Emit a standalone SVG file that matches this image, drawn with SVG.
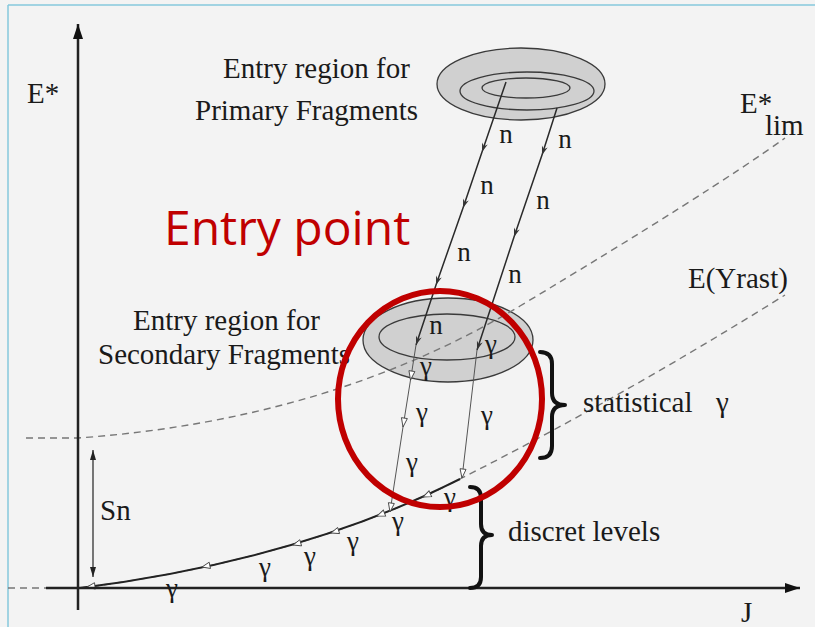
<svg xmlns="http://www.w3.org/2000/svg" xmlns:xlink="http://www.w3.org/1999/xlink" width="815" height="627" viewBox="0 0 815 627">
<style>
.t{font-family:"Liberation Serif","Times New Roman",serif;fill:#1a1a1a;font-size:29px}
.g{font-family:"Liberation Serif","Times New Roman",serif;fill:#1a1a1a;font-size:27px;text-anchor:middle}
.dash{fill:none;stroke:#777;stroke-width:1.4;stroke-dasharray:7 5}
.nl{fill:none;stroke:#2a2a2a;stroke-width:1.5}
.gl{fill:none;stroke:#555;stroke-width:1}
.ax{fill:none;stroke:#222;stroke-width:2.5}
.br{fill:none;stroke:#111;stroke-width:4;stroke-linejoin:round;stroke-linecap:round}
.oa{fill:#fff;stroke:#444;stroke-width:0.9}
.reg{fill:#d0d0d0;stroke:#3a3a3a;stroke-width:1.3}
.ring{fill:none;stroke:#3a3a3a;stroke-width:1.3}
</style>
<defs>
<marker id="mn" markerUnits="userSpaceOnUse" markerWidth="12" markerHeight="10" viewBox="-10 -5 12 10" refX="0" refY="0" orient="auto">
<path d="M0,0 L-9,-3 L-6,0 L-9,3 Z" fill="#333"/>
</marker>
<marker id="mg" markerUnits="userSpaceOnUse" markerWidth="12" markerHeight="10" viewBox="-10 -5 12 10" refX="0" refY="0" orient="auto">
<path d="M0,0 L-9,-3 L-9,3 Z" fill="#fff" stroke="#444" stroke-width="0.9"/>
</marker>
<marker id="ma" markerUnits="userSpaceOnUse" markerWidth="16" markerHeight="12" viewBox="-15 -6 16 12" refX="0" refY="0" orient="auto">
<path d="M0,0 L-15,-5 L-15,5 Z" fill="#111"/>
</marker>
<marker id="ms" markerUnits="userSpaceOnUse" markerWidth="12" markerHeight="10" viewBox="-10 -5 12 10" refX="0" refY="0" orient="auto-start-reverse">
<path d="M0,0 L-10,-3 L-10,3 Z" fill="#222"/>
</marker>
<path id="tri" d="M0,0 L-8,-3.2 L-8,3.2 Z"/>
</defs>

<rect x="0" y="0" width="815" height="627" fill="#f3f3f3"/>
<line x1="8" y1="5" x2="815" y2="5" stroke="#86c9dc" stroke-width="1.5"/>
<line x1="8" y1="5" x2="8" y2="627" stroke="#86c9dc" stroke-width="1.5"/>

<g id="primary-region">
<ellipse class="reg" cx="521" cy="84" rx="84" ry="36"/>
<ellipse class="ring" cx="527" cy="91" rx="67" ry="19"/>
<ellipse class="ring" cx="526" cy="88" rx="44" ry="10"/>
</g>

<g id="secondary-region">
<ellipse class="reg" cx="448" cy="340" rx="85" ry="42"/>
<ellipse class="ring" cx="447" cy="337" rx="68" ry="23"/>
</g>

<g id="curves">
<path id="elim-curve" class="dash" d="M26,438 L78,438 Q330,420 520,306 T785,138"/>
<path id="yrast-left" class="dash" d="M8,588 L46,588"/>
<path id="yrast-curve" class="dash" d="M80,588 Q300,560 460,479 T785,295"/>
<path id="discrete-curve" d="M80,588 Q300,560 460,479" fill="none" stroke="#222" stroke-width="2"/>
<g class="oa">
<use xlink:href="#tri" transform="translate(87,587) rotate(172)"/>
<use xlink:href="#tri" transform="translate(202,567) rotate(168)"/>
<use xlink:href="#tri" transform="translate(293,545) rotate(164)"/>
<use xlink:href="#tri" transform="translate(331,533) rotate(162)"/>
<use xlink:href="#tri" transform="translate(377,516) rotate(159)"/>
<use xlink:href="#tri" transform="translate(423,497) rotate(156)"/>
</g>
</g>

<g id="axes">
<path class="ax" d="M78,610 L78,24" marker-end="url(#ma)"/>
<path class="ax" d="M46,588 L800,588" marker-end="url(#ma)"/>
<path d="M93,450 L93,577" fill="none" stroke="#222" stroke-width="1.2" marker-start="url(#ms)" marker-end="url(#ms)"/>
</g>

<g id="connectors">
<path class="nl" d="M506,82 L482,152 L463,208 L436,285 L416,345" marker-mid="url(#mn)" marker-end="url(#mn)"/>
<path class="nl" d="M557,108 L542,155 L514,237 L477,350" marker-mid="url(#mn)" marker-end="url(#mn)"/>
<path class="gl" d="M416,345 L410.5,380 L403,427 L390,512" marker-mid="url(#mg)" marker-end="url(#mg)"/>
<path class="gl" d="M477,350 L462,478" marker-end="url(#mg)"/>
</g>

<g id="braces">
<path class="br" d="M540,352 Q552,352 552,364 L552,393 Q552,405 565,405 Q552,405 552,417 L552,446 Q552,458 540,458"/>
<path class="br" d="M470,487 Q481,487 481,498 L481,524 Q481,535 492,535 Q481,535 481,546 L481,577 Q481,588 470,588"/>
</g>

<g id="labels">
<text class="t" x="27" y="103" font-size="32">E*</text>
<text class="t" x="741" y="622">J</text>
<text class="t" x="223" y="78">Entry region for</text>
<text class="t" x="195" y="120">Primary Fragments</text>
<text class="t" x="133" y="330">Entry region for</text>
<text class="t" x="98" y="364">Secondary Fragments</text>
<text class="t" x="740" y="113">E*</text>
<text class="t" x="765" y="135" font-size="24">lim</text>
<text class="t" x="688" y="288">E(Yrast)</text>
<text class="t" x="583" y="412">statistical</text>
<text class="t" x="716" y="412">γ</text>
<text class="t" x="508" y="541">discret levels</text>
<text class="t" x="100" y="520" font-size="28">Sn</text>
<text x="164" y="245" font-family="'Open Sans','Noto Sans','Liberation Sans',sans-serif" font-size="48" fill="#c00000">Entry point</text>
</g>

<g id="n-labels">
<text class="g" x="506" y="143">n</text>
<text class="g" x="565" y="148">n</text>
<text class="g" x="487" y="194">n</text>
<text class="g" x="543" y="209">n</text>
<text class="g" x="464" y="261">n</text>
<text class="g" x="515" y="283">n</text>
<text class="g" x="436" y="334">n</text>
</g>

<g id="gamma-labels">
<text class="g" x="491" y="353">γ</text>
<text class="g" x="426" y="375">γ</text>
<text class="g" x="422" y="421">γ</text>
<text class="g" x="487" y="424">γ</text>
<text class="g" x="412" y="471">γ</text>
<text class="g" x="450" y="506">γ</text>
<text class="g" x="398" y="530">γ</text>
<text class="g" x="353" y="550">γ</text>
<text class="g" x="310" y="565">γ</text>
<text class="g" x="265" y="576">γ</text>
<text class="g" x="172" y="597">γ</text>
</g>

<g id="entry-point-circle">
<ellipse cx="440" cy="399" rx="102" ry="108" fill="none" stroke="#c00000" stroke-width="6"/>
</g>
</svg>
